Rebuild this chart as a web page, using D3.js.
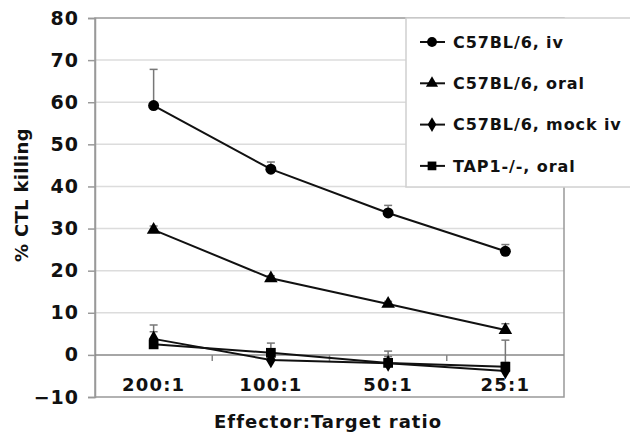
<!DOCTYPE html>
<html>
<head>
<meta charset="utf-8">
<script src="https://cdn.jsdelivr.net/npm/d3@7"></script>
<style>
  body { margin: 0; background: #fff; }
  text { font-family: "DejaVu Sans", Verdana, sans-serif; font-weight: bold; }
</style>
</head>
<body>
<svg id="chart"></svg>
<script>
// ratios on the x axis
var categories = ["200:1", "100:1", "50:1", "25:1"];
var seriesNames = ["C57BL/6, iv", "C57BL/6, oral", "C57BL/6, mock iv", "TAP1-/-, oral"];
var ivValues = [59.2, 44.1, 33.7, 24.6];
var ivErrors = [8.6, 1.7, 1.8, 1.6];
var oralValues = [29.7, 18.2, 12.1, 5.9];
var oralErrors = [0.9, 0.6, 0.6, 1.5];
var mockValues = [3.8, -1.2, -2.0, -3.8];
var mockErrors = [3.3, 1.6, 2.9, 2.0];
var tapValues = [2.5, 0.5, -1.9, -2.8];
var tapErrors = [3.0, 2.3, 1.5, 6.3];
var yTicks = [-10, 0, 10, 20, 30, 40, 50, 60, 70, 80];

var width = 630,
  height = 436;

var series = [
  { name: seriesNames[0], values: ivValues, errors: ivErrors, symbol: d3.symbolCircle, size: 95 },
  { name: seriesNames[1], values: oralValues, errors: oralErrors, symbol: d3.symbolTriangle, size: 80 },
  { name: seriesNames[2], values: mockValues, errors: mockErrors, symbol: d3.symbolDiamond, size: 80 },
  { name: seriesNames[3], values: tapValues, errors: tapErrors, symbol: d3.symbolSquare, size: 95 },
];

var svg = d3.select("#chart").attr("width", width).attr("height", height);

var x = d3.scaleBand().domain(categories).range([95, 564]);
var y = d3.scaleLinear().domain([-10, 80]).range([397, 18]);

// gridlines
svg.append("g")
  .selectAll("line")
  .data(yTicks.filter((t) => t != 0 && t != -10 && t != 80))
  .enter()
  .append("line")
  .attr("x1", 95)
  .attr("x2", 564)
  .attr("y1", (d) => y(d))
  .attr("y2", (d) => y(d))
  .style("stroke", "#dcdcdc")
  .style("stroke-width", 1.5);

// plot border
svg.append("rect")
  .attr("x", 95)
  .attr("y", y(80))
  .attr("width", 564 - 95)
  .attr("height", y(-10) - y(80))
  .style("fill", "none")
  .style("stroke", "#999")
  .style("stroke-width", 1.5);

// y axis
var yAxis = svg.append("g")
  .attr("transform", "translate(95,0)")
  .call(d3.axisLeft(y).tickValues(yTicks).tickSize(7).tickPadding(9));
yAxis.select(".domain").style("stroke", "#999").style("stroke-width", 1.5);
yAxis.selectAll(".tick line").style("stroke", "#999").style("stroke-width", 1.5);
yAxis.selectAll("text").style("font-size", "19px").style("fill", "#111")
  .style("letter-spacing", "1px")
  .style("font-family", "'DejaVu Sans', Verdana, sans-serif").style("font-weight", "bold");

// x axis along zero
svg.append("line")
  .attr("x1", 95)
  .attr("x2", 564)
  .attr("y1", y(0))
  .attr("y2", y(0))
  .style("stroke", "#888")
  .style("stroke-width", 1.5);
svg.append("g")
  .selectAll("line")
  .data(categories.slice(1))
  .enter()
  .append("line")
  .attr("x1", (d) => x(d))
  .attr("x2", (d) => x(d))
  .attr("y1", y(0))
  .attr("y2", y(0) + 6)
  .style("stroke", "#888")
  .style("stroke-width", 1.5);

svg.append("g")
  .selectAll("text")
  .data(categories)
  .enter()
  .append("text")
  .attr("x", (d) => x(d) + x.bandwidth() / 2)
  .attr("y", 391)
  .attr("text-anchor", "middle")
  .style("font-size", "18px")
  .style("letter-spacing", "1.2px")
  .style("fill", "#111")
  .text((d) => d);

// axis titles
svg.append("text")
  .attr("x", 328)
  .attr("y", 428)
  .attr("text-anchor", "middle")
  .style("font-size", "18px")
  .style("letter-spacing", "1px")
  .style("fill", "#111")
  .text("Effector:Target ratio");

svg.append("text")
  .attr("transform", "translate(28,195) rotate(-90)")
  .attr("text-anchor", "middle")
  .style("font-size", "18px")
  .style("letter-spacing", "0.3px")
  .style("fill", "#111")
  .text("% CTL killing");

var cx = (c) => x(c) + x.bandwidth() / 2;

// error bars (upper only)
series.forEach(function (s) {
  var eb = svg.append("g").selectAll("g")
    .data(categories)
    .enter()
    .append("g");
  eb.append("line")
    .attr("x1", (d) => cx(d))
    .attr("x2", (d) => cx(d))
    .attr("y1", (d, i) => y(s.values[i]))
    .attr("y2", (d, i) => y(s.values[i] + s.errors[i]))
    .style("stroke", "#777")
    .style("stroke-width", 1.5);
  eb.append("line")
    .attr("x1", (d) => cx(d) - 4)
    .attr("x2", (d) => cx(d) + 4)
    .attr("y1", (d, i) => y(s.values[i] + s.errors[i]))
    .attr("y2", (d, i) => y(s.values[i] + s.errors[i]))
    .style("stroke", "#777")
    .style("stroke-width", 1.5);
});

var line = d3.line()
  .x((d) => cx(d[0]))
  .y((d) => y(d[1]));

series.forEach(function (s) {
  svg.append("path")
    .attr("d", line(categories.map((c, i) => [c, s.values[i]])))
    .style("fill", "none")
    .style("stroke", "#111")
    .style("stroke-width", 2);
  svg.append("g")
    .selectAll("path")
    .data(categories)
    .enter()
    .append("path")
    .attr("d", d3.symbol().type(s.symbol).size(s.size))
    .attr("transform", (d, i) => "translate(" + cx(d) + "," + y(s.values[i]) + ")")
    .style("fill", "#000");
});

// legend
var legend = svg.append("g");
legend.append("rect")
  .attr("x", 406)
  .attr("y", 18)
  .attr("width", 240)
  .attr("height", 169)
  .style("fill", "#fff")
  .style("stroke", "#d0d0d0")
  .style("stroke-width", 1.5);

var items = legend.selectAll(".item")
  .data(series)
  .enter()
  .append("g")
  .attr("class", "item")
  .attr("transform", (d, i) => "translate(0," + (42 + i * 41.3) + ")");
items.append("line")
  .attr("x1", 420)
  .attr("x2", 445)
  .style("stroke", "#111")
  .style("stroke-width", 2);
items.append("path")
  .attr("d", (d) => d3.symbol().type(d.symbol).size(d.size * 0.8)())
  .attr("transform", "translate(432,0)")
  .style("fill", "#000");
items.append("text")
  .attr("x", 453)
  .attr("y", 0)
  .attr("dy", "0.35em")
  .style("font-size", "16px")
  .style("letter-spacing", "0.9px")
  .style("fill", "#111")
  .text((d) => d.name);
</script>
</body>
</html>
